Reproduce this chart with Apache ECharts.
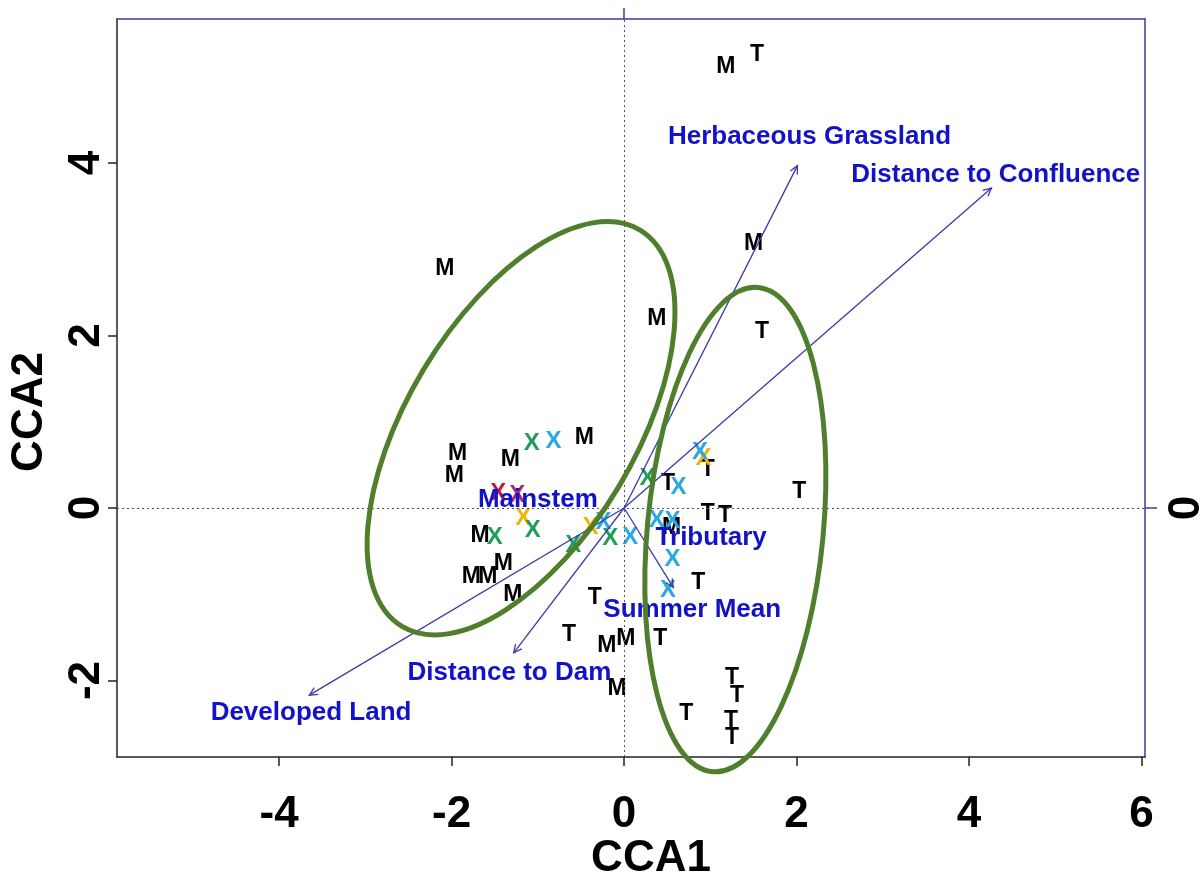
<!DOCTYPE html>
<html><head><meta charset="utf-8">
<script src="https://cdn.jsdelivr.net/npm/echarts@6/dist/echarts.min.js"></script>
<style>html,body{margin:0;padding:0;background:#fff}#c{width:1202px;height:873px}</style>
</head><body><div id="c"></div>
<script>
// ---- data ----
const xTicks = [-4, -2, 0, 2, 4, 6];
const yTicks = [-2, 0, 2, 4];
const rightTicks = [0];
const topTicks = [0];

const siteLabels = ['M','T','M','M','M','T','M','M','M','M','T','T','T','T','T','M','M','M','M','M','M','T','T','T','M','M','T','M','T','T','T','T','T'];
const siteX = [1.18,1.54,-2.08,1.50,0.38,1.60,-1.93,-1.97,-1.32,-0.46,0.97,0.51,2.03,0.97,1.17,0.55,-1.67,-1.40,-1.77,-1.58,-1.29,-0.34,0.86,-0.64,-0.20,0.02,0.42,-0.08,1.25,1.31,0.72,1.24,1.25];
const siteY = [5.12,5.26,2.78,3.06,2.20,2.05,0.63,0.38,0.56,0.81,0.45,0.28,0.19,-0.07,-0.09,-0.23,-0.32,-0.64,-0.80,-0.80,-1.01,-1.04,-0.86,-1.47,-1.60,-1.52,-1.52,-2.10,-1.97,-2.18,-2.38,-2.46,-2.66];

const speciesGroup = ['green','cyan','red','magenta','orange','green','green','green','orange','cyan','green','cyan','green','cyan','orange','cyan','cyan','cyan','cyan','cyan'];
const speciesX = [-1.07,-0.82,-1.46,-1.24,-1.17,-1.06,-1.50,-0.59,-0.39,-0.24,-0.16,0.07,0.27,0.63,0.92,0.88,0.38,0.56,0.56,0.51];
const speciesY = [0.75,0.77,0.17,0.15,-0.12,-0.26,-0.34,-0.43,-0.22,-0.17,-0.35,-0.34,0.34,0.24,0.58,0.65,-0.14,-0.16,-0.60,-0.95];
const groupColors = {green:'#1f9e5a', cyan:'#2aa8e0', red:'#c0183c', magenta:'#b02a78', orange:'#f2b400'};

const arrowNames = ['Herbaceous Grassland','Distance to Confluence','Developed Land','Distance to Dam','Summer Mean'];
const arrowX = [2.01, 4.26, -3.65, -1.28, 0.57];
const arrowY = [3.97, 3.71, -2.17, -1.68, -0.92];
const arrowLabelX = [2.15, 4.31, -3.63, -1.33, 0.79];
const arrowLabelY = [4.30, 3.86, -2.38, -1.91, -1.18];

const centroidNames = ['Mainstem','Tributary'];
const centroidX = [-1.00, 1.01];
const centroidY = [0.10, -0.35];

const ellipseCX = [-1.195, 1.29];
const ellipseCY = [0.925, -0.25];
const ellipseA = [2.68, 2.82];
const ellipseB = [1.32, 1.02];
const ellipseAngle = [59, 84.6];

// ---- chart ----
const FONT = "'Liberation Sans', Arial, sans-serif";
const chart = echarts.init(document.getElementById('c'));

function textSeries(xs, ys, labels, colorFn, size, z) {
  return {
    type: 'custom', coordinateSystem: 'cartesian2d', xAxisIndex: 0, yAxisIndex: 0, clip: false, z: z,
    data: xs.map((x, i) => [x, ys[i]]),
    renderItem: function (params, api) {
      const p = api.coord([api.value(0), api.value(1)]);
      const i = params.dataIndex;
      return { type: 'text', x: p[0], y: p[1], style: {
        text: labels[i], fill: colorFn(i), font: 'bold ' + size + 'px ' + FONT,
        textAlign: 'center', textVerticalAlign: 'middle' } };
    }
  };
}

const option = {
  animation: false,
  backgroundColor: '#ffffff',
  grid: { left: 117, right: 57, top: 19, bottom: 116, show: false, outerBoundsMode: 'none', containLabel: false },
  xAxis: [
    { type: 'value', position: 'bottom', min: -5.88, max: 6.04,
      axisLine: { show: true, onZero: false, lineStyle: { color: '#222', width: 1.5 } },
      axisTick: { show: true, length: 9, customValues: xTicks, lineStyle: { color: '#222', width: 1.5 } },
      axisLabel: { customValues: xTicks, fontSize: 44, fontWeight: 'bold', fontFamily: FONT, color: '#000', margin: 36 },
      splitLine: { show: false },
      name: 'CCA1', nameLocation: 'middle', nameGap: 80, nameMoveOverlap: false,
      nameTextStyle: { fontSize: 44, fontWeight: 'bold', fontFamily: FONT, color: '#000', padding: [0, 0, 0, 40] } },
    { type: 'value', position: 'top', min: -5.88, max: 6.04,
      axisLine: { show: true, onZero: false, lineStyle: { color: '#3a3aa8', width: 1.5 } },
      axisTick: { show: true, length: 11, customValues: topTicks, lineStyle: { color: '#3a3aa8', width: 1.5 } },
      axisLabel: { show: false }, splitLine: { show: false } }
  ],
  yAxis: [
    { type: 'value', position: 'left', min: -2.887, max: 5.67,
      axisLine: { show: true, onZero: false, lineStyle: { color: '#222', width: 1.5 } },
      axisTick: { show: true, length: 9, customValues: yTicks, lineStyle: { color: '#222', width: 1.5 } },
      axisLabel: { customValues: yTicks, rotate: 90, fontSize: 44, fontWeight: 'bold', fontFamily: FONT, color: '#000', margin: 8 },
      splitLine: { show: false },
      name: 'CCA2', nameLocation: 'middle', nameGap: 65, nameRotate: 90, nameMoveOverlap: false,
      nameTextStyle: { fontSize: 44, fontWeight: 'bold', fontFamily: FONT, color: '#000', padding: [0, 48, 0, 0] } },
    { type: 'value', position: 'right', min: -2.887, max: 5.67,
      axisLine: { show: true, onZero: false, lineStyle: { color: '#3a3aa8', width: 1.5 } },
      axisTick: { show: true, length: 12, customValues: rightTicks, lineStyle: { color: '#3a3aa8', width: 1.5 } },
      axisLabel: { customValues: rightTicks, rotate: 90, fontSize: 44, fontWeight: 'bold', fontFamily: FONT, color: '#000', margin: 20 },
      splitLine: { show: false } }
  ],
  series: [
    { type: 'scatter', xAxisIndex: 0, yAxisIndex: 0, data: [[0, 0]], symbolSize: 0, silent: true, z: 1,
      markLine: { silent: true, symbol: 'none', label: { show: false },
        lineStyle: { type: [2, 3], color: '#555', width: 1 },
        data: [{ xAxis: 0 }, { yAxis: 0 }] } },
    textSeries(siteX, siteY, siteLabels, () => '#000', 23, 3),
    textSeries(speciesX, speciesY, speciesGroup.map(() => 'X'), i => groupColors[speciesGroup[i]], 24, 4),
    { type: 'custom', coordinateSystem: 'cartesian2d', xAxisIndex: 0, yAxisIndex: 0, clip: false, z: 5,
      data: arrowX.map((x, i) => [x, arrowY[i]]),
      renderItem: function (params, api) {
        const o = api.coord([0, 0]);
        const e = api.coord([api.value(0), api.value(1)]);
        const ang = Math.atan2(e[1] - o[1], e[0] - o[0]);
        const L = 9, spread = Math.PI / 7;
        const h1 = [e[0] - L * Math.cos(ang - spread), e[1] - L * Math.sin(ang - spread)];
        const h2 = [e[0] - L * Math.cos(ang + spread), e[1] - L * Math.sin(ang + spread)];
        const st = { stroke: '#3a3aa8', lineWidth: 1.3, fill: 'none' };
        return { type: 'group', children: [
          { type: 'line', shape: { x1: o[0], y1: o[1], x2: e[0], y2: e[1] }, style: st },
          { type: 'polyline', shape: { points: [h1, e, h2] }, style: st }
        ] };
      } },
    textSeries(arrowLabelX, arrowLabelY, arrowNames, () => '#1212c8', 26, 6),
    textSeries(centroidX, centroidY, centroidNames, () => '#1212c8', 26, 6),
    { type: 'custom', coordinateSystem: 'cartesian2d', xAxisIndex: 0, yAxisIndex: 0, clip: false, z: 7,
      data: ellipseCX.map((x, i) => [x, ellipseCY[i], ellipseA[i], ellipseB[i], ellipseAngle[i]]),
      renderItem: function (params, api) {
        const c = api.coord([api.value(0), api.value(1)]);
        const s = api.size([1, 1]);
        return { type: 'ellipse', x: c[0], y: c[1], rotation: api.value(4) * Math.PI / 180,
          shape: { cx: 0, cy: 0, rx: api.value(2) * s[0], ry: api.value(3) * s[1] },
          style: { fill: 'none', stroke: '#4f7f2c', lineWidth: 5 } };
      } }
  ]
};
chart.setOption(option);
</script>
</body></html>
